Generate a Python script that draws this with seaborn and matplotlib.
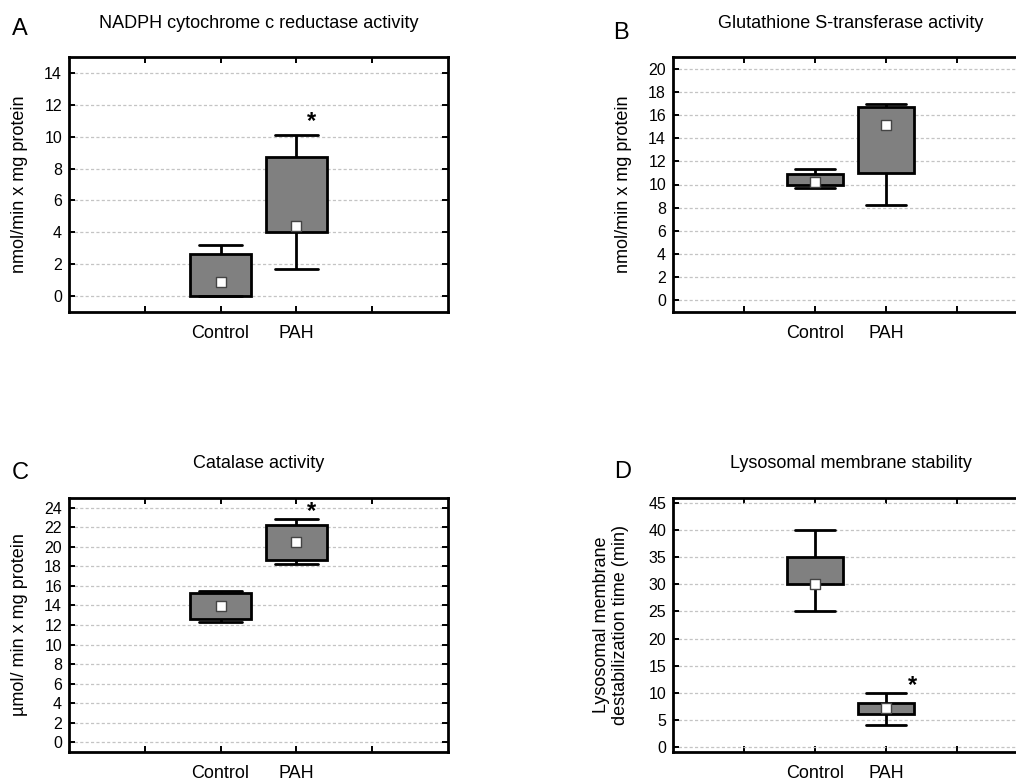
import matplotlib
matplotlib.use("Agg")
import matplotlib.pyplot as plt
import numpy as np
import pandas as pd
import seaborn as sns

# groups shown on every panel
groups = ["Control", "PAH"]

# box statistics: min, q1, median, q3, max
nadph_ctrl = [0.0, 0.0, 0.9, 2.65, 3.2]
nadph_pah = [1.7, 4.0, 4.4, 8.75, 10.1]
gst_ctrl = [9.73, 9.96, 10.25, 10.88, 11.34]
gst_pah = [8.2, 10.97, 15.12, 16.68, 16.97]
cat_ctrl = [12.31, 12.58, 13.98, 15.24, 15.48]
cat_pah = [18.27, 18.68, 20.49, 22.26, 22.88]
lms_ctrl = [25.0, 30.0, 30.0, 35.0, 40.0]
lms_pah = [4.0, 6.0, 7.2, 8.0, 10.0]

panel_letters = ["A", "B", "C", "D"]
panel_titles = [
    "NADPH cytochrome c reductase activity",
    "Glutathione S-transferase activity",
    "Catalase activity",
    "Lysosomal membrane stability",
]
y_labels = [
    "nmol/min x mg protein",
    "nmol/min x mg protein",
    "µmol/ min x mg protein",
    "Lysosomal membrane\ndestabilization time (min)",
]
y_limits = [(-1, 15), (-1, 21), (-1, 25), (-1, 46)]
y_ticks = [np.arange(0, 15, 2), np.arange(0, 21, 2), np.arange(0, 25, 2), np.arange(0, 46, 5)]
significant = [True, False, True, True]

sns.set_theme(style="white")
plt.rcParams["font.family"] = ["Liberation Sans", "DejaVu Sans"]
plt.rcParams.update({"text.color": "black", "axes.labelcolor": "black",
                     "xtick.color": "black", "ytick.color": "black"})

fig = plt.figure(figsize=(10.16, 7.8), dpi=100)

# axes boxes in pixels: left, top, width, height
boxes_px = [(69, 57, 379, 255), (673, 57, 355, 255),
            (69, 498, 379, 254), (673, 498, 355, 254)]
letter_px = [(20, 29), (621, 33), (20, 473), (623, 472)]
ylabel_x = [20, 623, 20, 611]
star_dx = [0.2, 0.2, 0.2, 0.38]
star_frac = [0.055, 0.0, 0.028, 0.026]

pairs = [(nadph_ctrl, nadph_pah), (gst_ctrl, gst_pah),
         (cat_ctrl, cat_pah), (lms_ctrl, lms_pah)]

W, H = 1016, 780
for i, (ctrl, pah) in enumerate(pairs):
    l, t, w, h = boxes_px[i]
    ax = fig.add_axes([l / W, 1 - (t + h) / H, w / W, h / H])

    df = pd.DataFrame({
        "group": ["Control"] * len(ctrl) + ["PAH"] * len(pah),
        "value": ctrl + pah,
    })
    med = pd.DataFrame({"group": groups, "value": [ctrl[2], pah[2]]})

    ax.yaxis.grid(True, linestyle=(0, (2.5, 1.8)), color="#c4c4c4", linewidth=0.9)
    ax.set_axisbelow(True)

    sns.boxplot(
        data=df, x="group", y="value", order=groups, ax=ax,
        whis=(0, 100), width=0.8, color="#808080", linecolor="black",
        linewidth=2, showfliers=False, saturation=1,
        medianprops={"visible": False}, capwidths=0.57,
    )
    sns.stripplot(
        data=med, x="group", y="value", order=groups, ax=ax,
        jitter=False, marker="s", size=7.5, color="white",
        edgecolor="#444444", linewidth=1, zorder=5,
    )

    ax.set_xlim(-2, 3)
    ax.set_ylim(*y_limits[i])
    ax.set_yticks(y_ticks[i])
    ax.set_xticks([-1, 0, 1, 2], labels=["", "Control", "PAH", ""])
    ax.set_xlabel("")
    ax.set_ylabel("")
    ax.tick_params(axis="both", direction="in", length=4, width=1.4,
                   color="black", top=True, right=True, bottom=True, left=True)
    ax.tick_params(axis="x", labelsize=13, pad=9)
    ax.tick_params(axis="y", labelsize=11.5, pad=5)
    for sp in ax.spines.values():
        sp.set_linewidth(2)
        sp.set_color("black")

    if significant[i]:
        lo_y, hi_y = y_limits[i]
        ax.text(1 + star_dx[i], pah[4] + star_frac[i] * (hi_y - lo_y), "*",
                ha="center", va="center", fontsize=17, fontweight="bold")

    ax.text(0.5, 1 + (t - (24 if t < 100 else 464)) / h, panel_titles[i],
            transform=ax.transAxes, ha="center", va="center", fontsize=13)
    fig.text(ylabel_x[i] / W, 1 - (t + h / 2) / H, y_labels[i], rotation=90,
             ha="center", va="center", fontsize=13, linespacing=1.1)
    lx, ly = letter_px[i]
    fig.text(lx / W, 1 - ly / H, panel_letters[i], ha="center", va="center",
             fontsize=17)

fig.savefig("out.png", dpi=100)
